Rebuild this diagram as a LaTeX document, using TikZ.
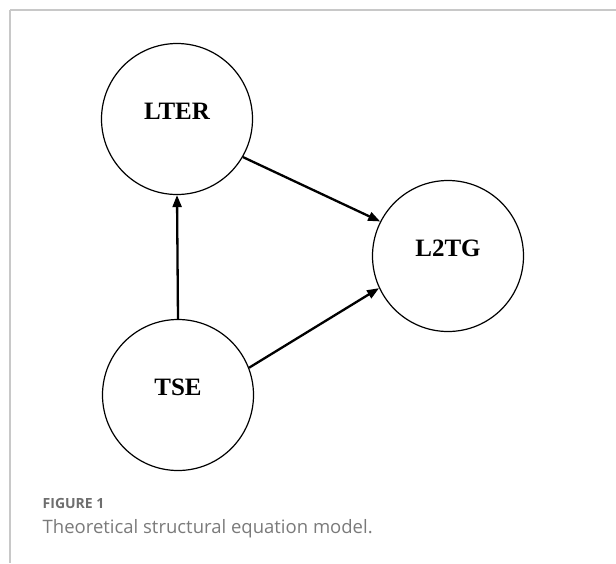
\documentclass[tikz,border=0pt]{standalone}
\usepackage{fontspec}
\setmainfont{Liberation Serif}
\newfontfamily\capfont{Open Sans}
\usetikzlibrary{arrows.meta}
\definecolor{framegray}{HTML}{C8C8C8}
\definecolor{capgray}{HTML}{6E6E6E}
\definecolor{txtgray}{HTML}{7A7A7A}
\begin{document}
\begin{tikzpicture}[x=1pt,y=-1pt,
  construct/.style={draw=black,line width=1.2pt,circle,minimum size=151pt,inner sep=0pt,
    font=\fontsize{25}{25}\selectfont\bfseries,text height=0pt,text depth=0pt},
  path/.style={line width=2.3pt,-{Triangle[length=12pt,width=9pt]}}]
  \useasboundingbox (0,0) rectangle (616,563);
  % panel frame
  \draw[framegray,line width=1.2pt] (616,10) -- (9.5,10);
  \draw[framegray,line width=2pt] (10,10) -- (10,563);
  % constructs
  \node[construct] (lter) at (177,119) {LTER};
  \node[construct] (l2tg) at (448,256) {L2TG};
  \node[construct] (tse) at (178,395) {TSE};
  % structural paths
  \draw[path] (tse.north) -- (lter.south);
  \draw[path] (lter.330) -- (l2tg.153);
  \draw[path] (tse.21) -- (l2tg.205);
  % caption
  \node[anchor=base west,inner sep=0pt,text=capgray,font=\capfont\bfseries\fontsize{14}{15}\selectfont] (figlabel) at (42.5,508) {FIGURE 1};
  \node[anchor=base west,inner sep=0pt,text=txtgray,font=\capfont\fontsize{18.5}{19}\selectfont] (figtitle) at (42.5,533) {Theoretical structural equation model.};
\end{tikzpicture}
\end{document}
